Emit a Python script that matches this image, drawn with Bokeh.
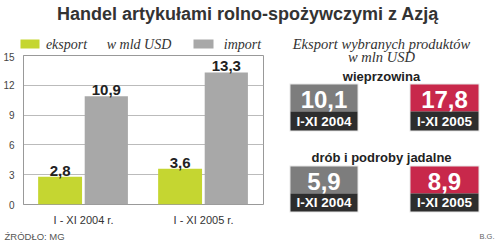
from bokeh.plotting import figure
from bokeh.layouts import column, row
from bokeh.models import FactorRange, Range1d, ColumnDataSource, FixedTicker
from bokeh.transform import dodge
from bokeh.core.properties import value
from bokeh.embed import file_html
from bokeh.resources import INLINE

# ---------------- data ----------------
title_text = "Handel artykułami rolno-spożywczymi  z Azją"
periods = ["I - XI 2004 r.", "I - XI 2005 r."]
eksport = [2.8, 3.6]
imports = [10.9, 13.3]
y_ticks = [0, 3, 6, 9, 12, 15]
series_names = ["eksport", "import"]
unit_left = "w mld USD"
panel_title = ["Eksport wybranych produktów", "w mln USD"]
products = ["wieprzowina", "drób i podroby jadalne"]
prod_2004 = [10.1, 5.9]
prod_2005 = [17.8, 8.9]
box_periods = ["I-XI 2004", "I-XI 2005"]
source_text = "ŹRÓDŁO: MG"
author = "B.G."

GREEN = "#c5d631"
GREY = "#a8a8a8"
BOX_GREY = "#7d7d7d"
BOX_RED = "#c8284b"
BOX_DARK = "#2d2d2d"
TXT = "#333333"
SANS = "Liberation Sans"
SERIF = "Liberation Serif"


def fmt(v):
    return f"{v:.1f}".replace(".", ",")


def blank(w, h, x0, x1, y0, y1):
    f = figure(width=w, height=h, x_range=Range1d(x0, x1), y_range=Range1d(y1, y0),
               x_axis_type=None, y_axis_type=None, min_border=0,
               toolbar_location=None, output_backend="svg")
    f.grid.visible = False
    f.outline_line_color = None
    f.background_fill_color = "white"
    f.border_fill_color = "white"
    f.frame_align = False
    return f


# ---------------- title ----------------
tf = blank(500, 30, 0, 500, 0, 30)
tf.text(x=[250], y=[13], text=[title_text], text_align="center", text_baseline="middle",
        text_font=value(SANS), text_font_style="bold", text_font_size="18px",
        text_color=TXT)

# ---------------- legend strip (left) ----------------
lf = blank(268, 22, 0, 268, 30, 52)
lf.quad(left=[20, 193], right=[39, 213], top=[39, 39], bottom=[48, 48],
        fill_color=[GREEN, GREY], line_color=None)
lf.text(x=[66, 138.5, 242], y=[44, 44, 44],
        text=[series_names[0], unit_left, series_names[1]], text_align="center",
        text_baseline="middle", text_font=value(SERIF), text_font_style="italic",
        text_font_size="14px", text_color=TXT)

# ---------------- bar chart ----------------
p = figure(width=268, height=176, x_range=FactorRange(*periods), y_range=Range1d(0, 15),
           min_border_left=17, min_border_right=5, min_border_top=3, min_border_bottom=18,
           toolbar_location=None, output_backend="svg")
p.frame_align = False
p.x_range.range_padding = 0
p.background_fill_color = "white"
p.border_fill_color = "white"

src = ColumnDataSource(dict(period=periods, eksport=eksport, imports=imports,
                            el=[fmt(v) for v in eksport], il=[fmt(v) for v in imports]))
p.vbar(x=dodge("period", -0.195, range=p.x_range), top="eksport", width=0.366,
       source=src, fill_color=GREEN, line_color=None)
p.vbar(x=dodge("period", 0.19, range=p.x_range), top="imports", width=0.36,
       source=src, fill_color=GREY, line_color=None)
for col, lab, off in (("eksport", "el", -0.195), ("imports", "il", 0.19)):
    p.text(x=dodge("period", off, range=p.x_range), y=col, text=lab, source=src,
           y_offset=-1, text_align="center", text_baseline="bottom",
           text_font=value(SANS), text_font_style="bold", text_font_size="15px",
           text_color="#222222")

p.yaxis.ticker = FixedTicker(ticks=y_ticks)
p.yaxis.major_label_text_font = SANS
p.yaxis.major_label_text_font_size = "10px"
p.yaxis.major_label_text_color = "#444444"
p.yaxis.major_tick_line_color = None
p.yaxis.minor_tick_line_color = None
p.yaxis.axis_line_color = "#999999"
p.yaxis.major_label_standoff = 3
p.xaxis.major_tick_line_color = None
p.xaxis.axis_line_color = None
p.xaxis.major_label_text_font = SANS
p.xaxis.major_label_text_font_size = "11px"
p.xaxis.major_label_text_color = TXT
p.xaxis.major_label_standoff = 3
p.xgrid.grid_line_color = None
p.ygrid.grid_line_color = "#bbbbbb"
p.outline_line_color = "#999999"

# ---------------- right panel ----------------
rf = blank(232, 198, 268, 500, 30, 228)
rf.text(x=[381, 381], y=[43, 56], text=panel_title, text_align="center",
        text_baseline="middle", text_font=value(SERIF), text_font_style="italic",
        text_font_size="14.5px", text_color=TXT)

box_left = [290, 410]
box_right = [357, 478]
row_head_y = [75.5, 157]
row_top = [84, 166]
row_mid = [111, 193]
row_bot = [130, 211]
for i, prod in enumerate(products):
    rf.text(x=[381], y=[row_head_y[i]], text=[prod], text_align="center",
            text_baseline="middle", text_font=value(SANS), text_font_style="bold",
            text_font_size="13px", text_color="#222222")
    vals = [prod_2004[i], prod_2005[i]]
    for j, col in enumerate([BOX_GREY, BOX_RED]):
        rf.quad(left=[box_left[j] - 1], right=[box_right[j] + 1], top=[row_top[i] - 1],
                bottom=[row_bot[i] + 1], fill_color="#dddddd", line_color=None,
                fill_alpha=0.7)
        rf.quad(left=[box_left[j]], right=[box_right[j]], top=[row_top[i]],
                bottom=[row_mid[i]], fill_color=col, line_color=None)
        rf.quad(left=[box_left[j]], right=[box_right[j]], top=[row_mid[i]],
                bottom=[row_bot[i]], fill_color=BOX_DARK, line_color=None)
        cx = (box_left[j] + box_right[j]) / 2
        rf.text(x=[cx], y=[(row_top[i] + row_mid[i]) / 2 + 1], text=[fmt(vals[j])],
                text_align="center", text_baseline="middle", text_font=value(SANS),
                text_font_style="bold", text_font_size="24px", text_color="white")
        rf.text(x=[cx], y=[(row_mid[i] + row_bot[i]) / 2], text=[box_periods[j]],
                text_align="center", text_baseline="middle", text_font=value(SANS),
                text_font_style="bold", text_font_size="13.5px", text_color="white")

# ---------------- footer ----------------
bf = blank(500, 14, 0, 500, 0, 14)
bf.text(x=[4], y=[8], text=[source_text], text_align="left", text_baseline="middle",
        text_font=value(SANS), text_font_size="9.5px", text_color="#555555")
bf.text(x=[494], y=[8], text=[author], text_align="right", text_baseline="middle",
        text_font=value(SANS), text_font_size="7.5px", text_color="#666666")

layout = column(tf, row(column(lf, p), rf), bf)
open("out.html", "w").write(file_html(layout, INLINE))
